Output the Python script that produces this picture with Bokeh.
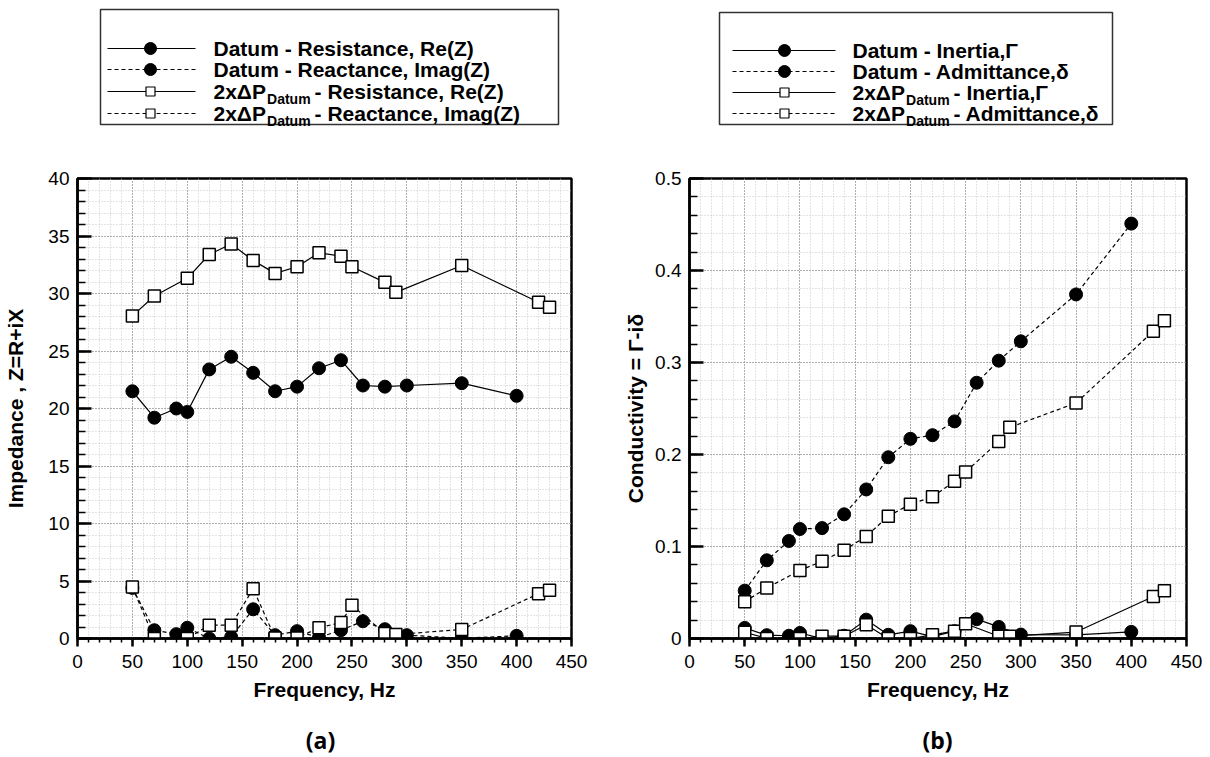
from bokeh.plotting import figure
from bokeh.layouts import column, row
from bokeh.models import Range1d, SingleIntervalTicker, CustomJSTickFormatter
from bokeh.core.properties import value
from bokeh.embed import file_html
from bokeh.resources import INLINE

# ---------------- data ----------------
freq_datum = [50, 70, 90, 100, 120, 140, 160, 180, 200, 220, 240, 260, 280, 300, 350, 400]
freq_2x = [50, 70, 100, 120, 140, 160, 180, 200, 220, 240, 250, 280, 290, 350, 420, 430]

res_datum = [21.5, 19.2, 20.0, 19.7, 23.4, 24.5, 23.1, 21.5, 21.9, 23.5, 24.2, 22.0, 21.9, 22.0, 22.2, 21.1]
react_datum = [4.4, 0.72, 0.38, 0.93, 0.0, 0.14, 2.54, 0.29, 0.64, 0.09, 0.72, 1.5, 0.81, 0.29, 0.02, 0.23]
res_2x = [28.05, 29.78, 31.32, 33.39, 34.3, 32.87, 31.75, 32.33, 33.54, 33.25, 32.33, 30.97, 30.1, 32.44, 29.24, 28.8]
react_2x = [4.47, 0.0, 0.0, 1.16, 1.16, 4.33, 0.05, 0.05, 0.93, 1.39, 2.89, 0.43, 0.35, 0.78, 3.9, 4.19]

inertia_datum = [0.0115, 0.0036, 0.003, 0.006, 0.0, 0.003, 0.0205, 0.004, 0.008, 0.002, 0.008, 0.021, 0.0126, 0.0043, 0.004, 0.0072]
admit_datum = [0.052, 0.085, 0.106, 0.119, 0.120, 0.135, 0.162, 0.197, 0.217, 0.221, 0.236, 0.278, 0.302, 0.323, 0.374, 0.451]
inertia_2x = [0.0068, 0.0, 0.0, 0.0025, 0.0025, 0.015, 0.0, 0.0, 0.004, 0.008, 0.016, 0.0025, 0.0025, 0.007, 0.0457, 0.052]
admit_2x = [0.040, 0.055, 0.074, 0.084, 0.096, 0.111, 0.133, 0.146, 0.154, 0.171, 0.181, 0.214, 0.2295, 0.256, 0.334, 0.3455]

legend_a = [
    ("solid", "filled", "Datum - Resistance, Re(Z)"),
    ("dashed", "filled", "Datum - Reactance, Imag(Z)"),
    ("solid", "open", " - Resistance, Re(Z)"),
    ("dashed", "open", " - Reactance, Imag(Z)"),
]
legend_b = [
    ("solid", "filled", "Datum - Inertia,\u0393"),
    ("dashed", "filled", "Datum - Admittance,\u03b4"),
    ("solid", "open", " - Inertia,\u0393"),
    ("dashed", "open", "- Admittance,\u03b4"),
]
panel_tags = ["(a)", "(b)"]

FONT = "Liberation Sans"
DASH = "4 3"
PANEL_W = 605
LEG_H = 130
PLOT_H = 584     # 48 top + 460 frame + 76 bottom
TAG_H = 757 - LEG_H - PLOT_H


def style_axes(p, ylabel, ytick_interval, label_standoff):
    p.xaxis.ticker = SingleIntervalTicker(interval=50, num_minor_ticks=5)
    p.yaxis.ticker = SingleIntervalTicker(interval=ytick_interval, num_minor_ticks=5)
    p.xaxis.axis_label = "Frequency, Hz"
    p.yaxis.axis_label = ylabel
    for ax in (p.xaxis, p.yaxis):
        ax.axis_line_width = 2.5
        ax.axis_line_color = "black"
        ax.major_tick_line_width = 2.5
        ax.minor_tick_line_width = 1.5
        ax.major_tick_line_color = "black"
        ax.minor_tick_line_color = "black"
        ax.major_label_text_font = FONT
        ax.major_label_text_font_size = "19px"
        ax.major_label_text_color = "black"
        ax.axis_label_text_font = FONT
        ax.axis_label_text_font_style = "bold"
        ax.axis_label_text_font_size = "21px"
        ax.axis_label_text_color = "black"
        ax.major_label_standoff = 8
    p.xaxis.major_tick_in = 0
    p.xaxis.major_tick_out = 8
    p.xaxis.minor_tick_in = 0
    p.xaxis.minor_tick_out = 4
    p.xaxis.axis_label_standoff = 7
    p.yaxis.major_tick_in = 14
    p.yaxis.major_tick_out = 0
    p.yaxis.minor_tick_in = 8
    p.yaxis.minor_tick_out = 0
    p.yaxis.axis_label_standoff = label_standoff
    for g in (p.xgrid, p.ygrid):
        g.grid_line_color = "#7a7a7a"
        g.grid_line_dash = "1 2"
        g.grid_line_width = 1
        g.minor_grid_line_color = "#c8c8c8"
        g.minor_grid_line_dash = "1 2"
        g.minor_grid_line_width = 1
    p.outline_line_color = "black"
    p.outline_line_width = 2.5
    p.outline_line_alpha = 1.0
    p.background_fill_color = "white"
    p.border_fill_color = "white"


def draw_series(p, xd, yd_solid, yd_dash, x2, y2_solid, y2_dash):
    for x, y, dash in ((xd, yd_solid, "solid"), (xd, yd_dash, DASH),
                       (x2, y2_solid, "solid"), (x2, y2_dash, DASH)):
        p.line(x, y, line_color="black", line_width=1.2, line_dash=dash)
    for y in (yd_solid, yd_dash):
        p.scatter(xd, y, marker="circle", size=13, fill_color="black", line_color="black")
    for y in (y2_solid, y2_dash):
        p.scatter(x2, y, marker="square", size=12, fill_color="white",
                  line_color="black", line_width=1.5)


def make_panel(ylabel, ymax, ytick, border_left, border_right, label_standoff,
               yformatter=None):
    p = figure(width=PANEL_W, height=PLOT_H, output_backend="svg", toolbar_location=None,
               x_range=Range1d(0, 450), y_range=Range1d(0, ymax),
               min_border_left=border_left, min_border_right=border_right,
               min_border_top=48, min_border_bottom=PLOT_H - 48 - 460)
    style_axes(p, ylabel, ytick, label_standoff)
    if yformatter is not None:
        p.yaxis.formatter = yformatter
    return p


def blank_fig(h):
    f = figure(width=PANEL_W, height=h, output_backend="svg", toolbar_location=None,
               x_range=Range1d(0, PANEL_W), y_range=Range1d(h, 0),
               min_border=0, min_border_left=0, min_border_right=0,
               min_border_top=0, min_border_bottom=0)
    f.axis.visible = False
    f.grid.visible = False
    f.outline_line_color = None
    return f


def make_tag(tag, cx):
    f = blank_fig(TAG_H)
    f.text([cx], [TAG_H - 18], text=[tag], text_font=value("Open Sans"),
           text_font_style="bold", text_font_size="23px", text_baseline="middle",
           text_align="center", text_color="black")
    return f


def make_legend(box, line_x, marker_x, text_x, rows_y, entries):
    lg = blank_fig(LEG_H)
    lg.quad(left=[box[0]], right=[box[2]], top=[box[1]], bottom=[box[3]],
            fill_color=None, line_color="#333333", line_width=1.5)
    sub_w = 2.501 * 21 + 1  # width of "2xΔP" at 21px bold
    for (dash, mk, txt), yy in zip(entries, rows_y):
        lg.line([line_x[0], line_x[1]], [yy, yy], line_color="black", line_width=1.2,
                line_dash="solid" if dash == "solid" else DASH)
        if mk == "filled":
            lg.scatter([marker_x], [yy], marker="circle", size=12,
                       fill_color="black", line_color="black")
            lg.text([text_x], [yy], text=[txt], text_font=value(FONT), text_font_style="bold",
                    text_font_size="21px", text_baseline="middle", text_align="left",
                    text_color="black")
        else:
            lg.scatter([marker_x], [yy], marker="square", size=9,
                       fill_color="white", line_color="black", line_width=1.2)
            lg.text([text_x], [yy], text=["2x\u0394P"], text_font=value(FONT),
                    text_font_style="bold", text_font_size="21px", text_baseline="middle",
                    text_align="left", text_color="black")
            lg.text([text_x + sub_w], [yy + 7], text=["Datum"], text_font=value(FONT),
                    text_font_style="bold", text_font_size="14px", text_baseline="middle",
                    text_align="left", text_color="black")
            lg.text([text_x + sub_w + 3.111 * 14 + 4], [yy], text=[txt], text_font=value(FONT),
                    text_font_style="bold", text_font_size="21px", text_baseline="middle",
                    text_align="left", text_color="black")
    return lg


# ---------------- panel (a) ----------------
pa = make_panel("Impedance , Z=R+iX", 40, 5, 77, 34, 18)
draw_series(pa, freq_datum, res_datum, react_datum, freq_2x, res_2x, react_2x)

# ---------------- panel (b) ----------------
fmt = CustomJSTickFormatter(code="return tick == 0 ? '0' : tick.toFixed(1);")
pb = make_panel("Conductivity = \u0393-i\u03b4", 0.5, 0.1, 84, 24, 5, fmt)
draw_series(pb, freq_datum, inertia_datum, admit_datum, freq_2x, inertia_2x, admit_2x)

leg_a = make_legend((100, 9, 558, 124), (107, 195), 150, 213, [48, 69, 91, 113], legend_a)
leg_b = make_legend((719 - PANEL_W, 12, 1112 - PANEL_W, 124), (732 - PANEL_W, 835 - PANEL_W),
                    784 - PANEL_W, 852 - PANEL_W, [50, 71, 92, 113], legend_b)

tag_a = make_tag(panel_tags[0], 320)
tag_b = make_tag(panel_tags[1], 937 - PANEL_W)

layout = column(row(leg_a, leg_b, spacing=0), row(pa, pb, spacing=0),
                row(tag_a, tag_b, spacing=0), spacing=0)

open("out.html", "w").write(file_html(layout, INLINE))
